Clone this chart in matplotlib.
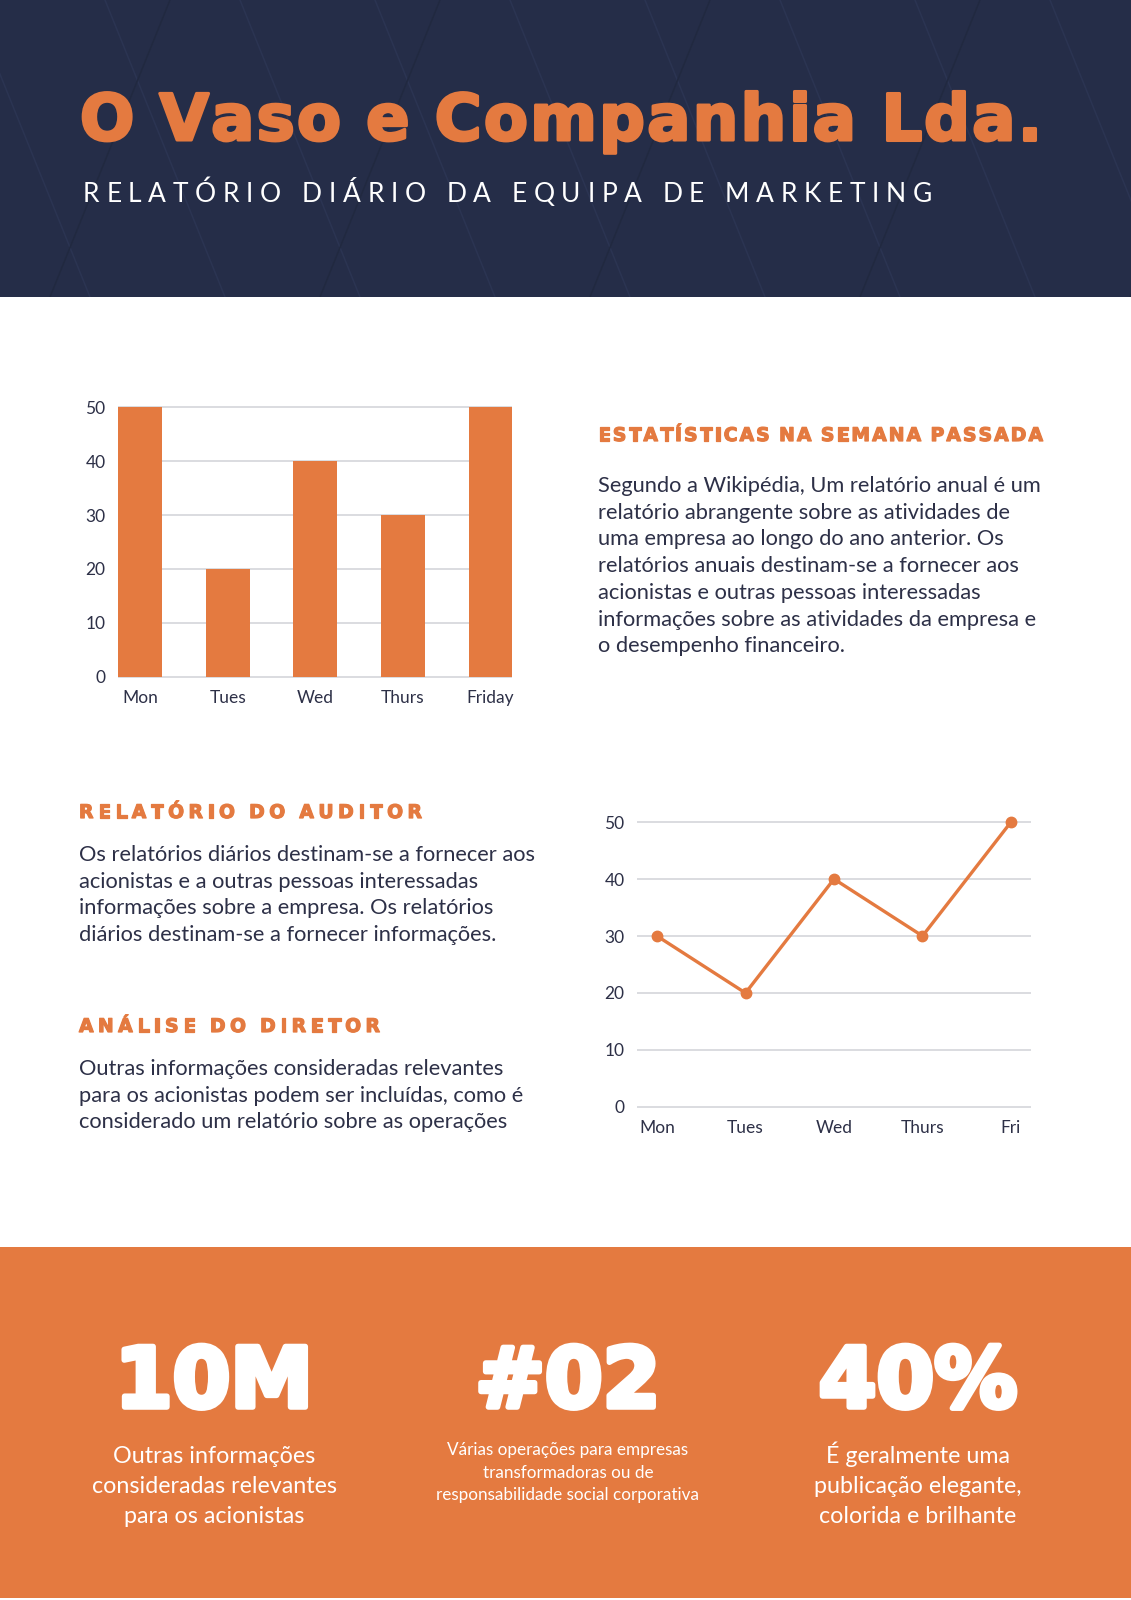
import matplotlib
matplotlib.use('Agg')
import matplotlib.pyplot as plt
import matplotlib.patheffects as pe
from matplotlib.font_manager import FontProperties
from matplotlib.patches import Rectangle

# ---------------- data ----------------
bar_days = ['Mon', 'Tues', 'Wed', 'Thurs', 'Friday']
bar_values = [50, 20, 40, 30, 50]
line_days = ['Mon', 'Tues', 'Wed', 'Thurs', 'Fri']
line_values = [30, 20, 40, 30, 50]
y_ticks = [0, 10, 20, 30, 40, 50]

title = 'O Vaso e Companhia Lda.'
subtitle = 'RELATÓRIO DIÁRIO DA EQUIPA DE MARKETING'
head_stats = 'ESTATÍSTICAS NA SEMANA PASSADA'
head_audit = 'RELATÓRIO DO AUDITOR'
head_dir = 'ANÁLISE DO DIRETOR'
para_stats = ["Segundo a Wikipédia, Um relatório anual é um",
              "relatório abrangente sobre as atividades de",
              "uma empresa ao longo do ano anterior. Os",
              "relatórios anuais destinam-se a fornecer aos",
              "acionistas e outras pessoas interessadas",
              "informações sobre as atividades da empresa e",
              "o desempenho financeiro."]
para_audit = ["Os relatórios diários destinam-se a fornecer aos",
              "acionistas e a outras pessoas interessadas",
              "informações sobre a empresa. Os relatórios",
              "diários destinam-se a fornecer informações."]
para_dir = ["Outras informações consideradas relevantes",
            "para os acionistas podem ser incluídas, como é",
            "considerado um relatório sobre as operações"]
stat_values = ['10M', '#02', '40%']
stat_caption1 = ["Outras informações", "consideradas relevantes", "para os acionistas"]
stat_caption2 = ["Várias operações para empresas", "transformadoras ou de",
                 "responsabilidade social corporativa"]
stat_caption3 = ["É geralmente uma", "publicação elegante,", "colorida e brilhante"]

# ---------------- style ----------------
W, H = 1131, 1600
NAVY = '#252D48'
ORANGE = '#E47A40'
TEXT = '#2D3047'
GRID = '#D8D9DD'
HEAVY = ['DejaVu Sans']
BODY = ['Lato', 'DejaVu Sans']
plt.rcParams['font.family'] = BODY

fig = plt.figure(figsize=(W / 100, H / 100), dpi=100)
fig.patch.set_facecolor('white')
bg = fig.add_axes([0, 0, 1, 1])
bg.set_xlim(0, W)
bg.set_ylim(H, 0)
bg.axis('off')
renderer = fig.canvas.get_renderer()


def fp(family, weight, size):
    return FontProperties(family=family, weight=weight, size=size)


def tw(s, prop):
    return renderer.get_text_width_height_descent(s, prop, False)[0]


def fit(s, family, weight, target):
    return 100.0 * target / tw(s, fp(family, weight, 100))


def spaced(text, x0, x1, yb, size, color, weight, family, space_frac=0.28, stroke=0):
    prop = fp(family, weight, size)
    sp = space_frac * size * 100 / 72
    widths = [sp if c == ' ' else tw(c, prop) for c in text]
    gap = (x1 - x0 - sum(widths)) / (len(text) - 1)
    x = x0
    effects = [pe.withStroke(linewidth=stroke, foreground=color)] if stroke else None
    for c, w in zip(text, widths):
        if c != ' ':
            t = bg.text(x, yb, c, ha='left', va='baseline', fontproperties=prop, color=color, zorder=5)
            if effects:
                t.set_path_effects(effects)
        x += w + gap


# ---------------- header ----------------
hdr = Rectangle((0, 0), W, 297, facecolor=NAVY, edgecolor='none', zorder=0)
bg.add_patch(hdr)
for x0 in range(-300, 1400, 135):
    ln, = bg.plot([x0, x0 + 120], [0, 297], color='#2B3452', lw=1.1, zorder=1)
    ln.set_clip_path(hdr)
for x0 in range(-100, 1500, 270):
    ln, = bg.plot([x0, x0 - 120], [0, 297], color='#212940', lw=1.1, zorder=1)
    ln.set_clip_path(hdr)

spaced(title, 80, 1042, 140, 46, ORANGE, 'bold', HEAVY, space_frac=0.32, stroke=2.2)
spaced(subtitle, 83, 932, 202, 19, 'white', 'normal', BODY)

# ---------------- section headings ----------------
spaced(head_stats, 598, 1043, 441, 13.5, ORANGE, 'bold', HEAVY, stroke=0.9)
spaced(head_audit, 79, 422, 818, 13.5, ORANGE, 'bold', HEAVY, stroke=0.9)
spaced(head_dir, 79, 380, 1032, 13.5, ORANGE, 'bold', HEAVY, stroke=0.9)

bs = fit(para_stats[0], BODY, 'normal', 445)
bprop = fp(BODY, 'normal', bs)
lh = 26.7
for i, s in enumerate(para_stats):
    bg.text(598, 492 + i * lh, s, ha='left', va='baseline', fontproperties=bprop, color=TEXT)
for i, s in enumerate(para_audit):
    bg.text(79, 861 + i * lh, s, ha='left', va='baseline', fontproperties=bprop, color=TEXT)
for i, s in enumerate(para_dir):
    bg.text(79, 1075 + i * lh, s, ha='left', va='baseline', fontproperties=bprop, color=TEXT)

# ---------------- bar chart ----------------
ax1 = fig.add_axes([118.1 / W, 1 - 678.6 / H, 394.3 / W, (678.6 - 405.4) / H])
ax1.bar(range(len(bar_days)), bar_values, width=0.5, color=ORANGE, zorder=3)
ax1.set_xlim(-0.25, 4.25)
ax1.set_ylim(-0.3, 50.3)
ax1.set_yticks(y_ticks)
ax1.set_xticks(range(len(bar_days)))
ax1.set_xticklabels(bar_days)
ax1.yaxis.grid(True, color=GRID, lw=1.3)
ax1.set_axisbelow(True)
for sp in ax1.spines.values():
    sp.set_visible(False)
ax1.tick_params(length=0, labelcolor=TEXT, labelsize=12.5)
ax1.tick_params(axis='y', pad=9)
ax1.tick_params(axis='x', pad=8)
ax1.set_facecolor('none')

# ---------------- line chart ----------------
ax2 = fig.add_axes([637 / W, 1 - 1108.7 / H, 394 / W, (1108.7 - 820.3) / H])
ax2.plot(range(len(line_days)), line_values, color=ORANGE, lw=2.4, marker='o', ms=7.5,
         clip_on=False, zorder=3)
ax2.set_xlim(-0.226, 4.226)
ax2.set_ylim(-0.3, 50.3)
ax2.set_yticks(y_ticks)
ax2.set_xticks(range(len(line_days)))
ax2.set_xticklabels(line_days)
ax2.yaxis.grid(True, color=GRID, lw=1.3)
ax2.set_axisbelow(True)
for sp in ax2.spines.values():
    sp.set_visible(False)
ax2.tick_params(length=0, labelcolor=TEXT, labelsize=12.5)
ax2.tick_params(axis='y', pad=9)
ax2.tick_params(axis='x', pad=8)
ax2.set_facecolor('none')

# ---------------- bottom band ----------------
bg.add_patch(Rectangle((0, 1247), W, 351, facecolor=ORANGE, edgecolor='none', zorder=0))
ns = fit(stat_values[0], HEAVY, 'bold', 198)
nprop = fp(HEAVY, 'bold', ns)
centers = [214, 568, 918]
for cx, v in zip(centers, stat_values):
    t = bg.text(cx, 1407, v, ha='center', va='baseline', fontproperties=nprop, color='white')
    t.set_path_effects([pe.withStroke(linewidth=4, foreground='white')])

cs1 = fit(stat_caption1[1], BODY, 'normal', 245)
cprop1 = fp(BODY, 'normal', cs1)
cs2 = fit(stat_caption2[2], BODY, 'normal', 263)
cprop2 = fp(BODY, 'normal', cs2)
for i, s in enumerate(stat_caption1):
    bg.text(centers[0], 1463 + i * 30, s, ha='center', va='baseline', fontproperties=cprop1, color='white')
for i, s in enumerate(stat_caption2):
    bg.text(centers[1], 1455 + i * 22.5, s, ha='center', va='baseline', fontproperties=cprop2, color='white')
for i, s in enumerate(stat_caption3):
    bg.text(centers[2], 1463 + i * 30, s, ha='center', va='baseline', fontproperties=cprop1, color='white')

fig.savefig('out.png', dpi=100, facecolor='white')
